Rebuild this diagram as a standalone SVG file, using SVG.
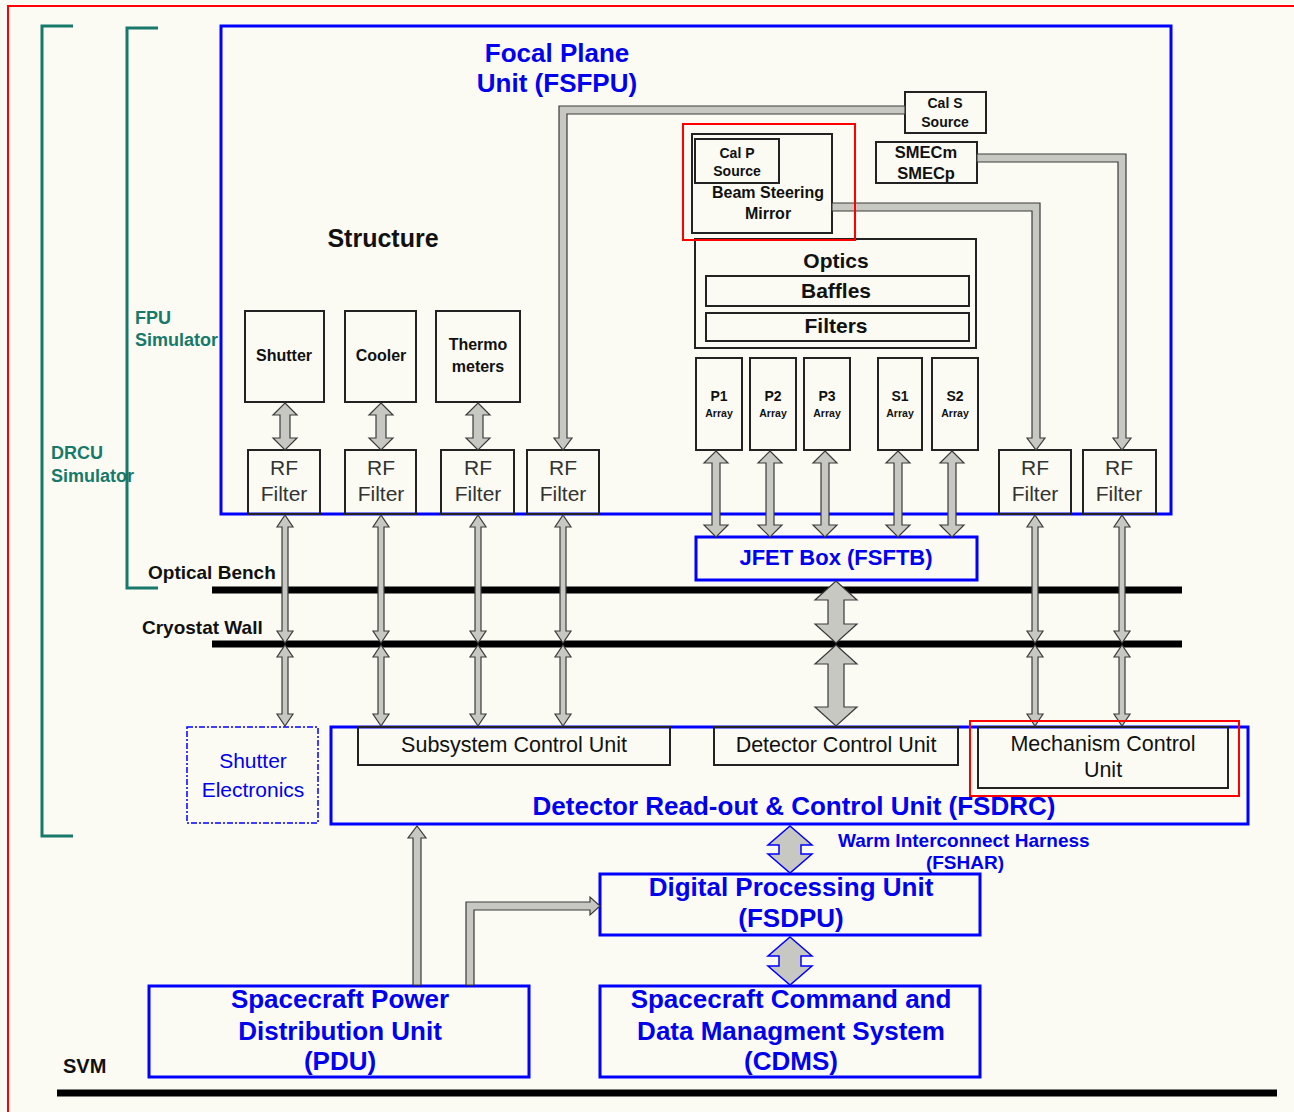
<svg xmlns="http://www.w3.org/2000/svg" width="1294" height="1112" viewBox="0 0 1294 1112">
<style>
.box{fill:none;stroke:#222;stroke-width:2}
.bbox{fill:none;stroke:#0000ff;stroke-width:3}
.dbox{fill:none;stroke:#0000ff;stroke-width:1.5;stroke-dasharray:6 2 2 2}
.hl{fill:none;stroke:#ff0000;stroke-width:2}
.arr{fill:#c8c8c2;stroke:#3a3a3a;stroke-width:1.2;stroke-linejoin:miter}
.barr{fill:#c8c8c2;stroke:#0000ff;stroke-width:1.5}
.wall{stroke:#000;stroke-width:7}
.br{fill:none;stroke:#17796a;stroke-width:3}
text{font-family:"Liberation Sans",Arial,sans-serif}
.b{font-weight:bold}
.blue{fill:#0000ee}
.blk{fill:#111}
.gr{fill:#17796a}
.rf{fill:#333;font-size:21px}
.m{text-anchor:middle}
</style>
<rect x="0" y="0" width="1294" height="1112" fill="#fbfbf3"/>
<path d="M8 1112 V6 H1294" fill="none" stroke="#ff0000" stroke-width="2"/>

<g id="brackets">
<path class="br" d="M73 26 H42 V836 H73"/>
<path class="br" d="M158 28 H127 V588 H158"/>
<text class="b gr" x="135" y="324" font-size="18">FPU</text>
<text class="b gr" x="135" y="346" font-size="18">Simulator</text>
<text class="b gr" x="51" y="459" font-size="18">DRCU</text>
<text class="b gr" x="51" y="482" font-size="18">Simulator</text>
</g>

<g id="walls">
<line class="wall" x1="212" y1="590" x2="1182" y2="590"/>
<line class="wall" x1="212" y1="644" x2="1182" y2="644"/>
<line class="wall" x1="57" y1="1093" x2="1277" y2="1093"/>
<text class="b blk" x="148" y="579" font-size="19">Optical Bench</text>
<text class="b blk" x="142" y="634" font-size="19">Cryostat Wall</text>
<text class="b blk" x="63" y="1073" font-size="20">SVM</text>
</g>

<g id="fsfpu">
<rect class="bbox" x="221" y="26" width="950" height="488"/>
<text class="b blue m" x="557" y="62" font-size="26">Focal Plane</text>
<text class="b blue m" x="557" y="92" font-size="26">Unit (FSFPU)</text>
<text class="b blk m" x="383" y="247" font-size="25">Structure</text>
</g>

<g id="shutter"><rect class="box" x="245" y="311" width="79" height="91"/><text class="b blk m" x="284" y="361" font-size="16">Shutter</text></g>
<g id="cooler"><rect class="box" x="345" y="311" width="71" height="91"/><text class="b blk m" x="381" y="361" font-size="16">Cooler</text></g>
<g id="thermometers"><rect class="box" x="436" y="311" width="84" height="91"/><text class="b blk m" x="478" y="350" font-size="16">Thermo</text><text class="b blk m" x="478" y="372" font-size="16">meters</text></g>

<g id="rf1"><rect class="box" x="248" y="450" width="72" height="64"/><text class="rf m" x="284" y="475">RF</text><text class="rf m" x="284" y="501">Filter</text></g>
<g id="rf2"><rect class="box" x="345" y="450" width="71" height="64"/><text class="rf m" x="381" y="475">RF</text><text class="rf m" x="381" y="501">Filter</text></g>
<g id="rf3"><rect class="box" x="441" y="450" width="73" height="64"/><text class="rf m" x="478" y="475">RF</text><text class="rf m" x="478" y="501">Filter</text></g>
<g id="rf4"><rect class="box" x="527" y="450" width="72" height="64"/><text class="rf m" x="563" y="475">RF</text><text class="rf m" x="563" y="501">Filter</text></g>
<g id="rf5"><rect class="box" x="999" y="450" width="72" height="64"/><text class="rf m" x="1035" y="475">RF</text><text class="rf m" x="1035" y="501">Filter</text></g>
<g id="rf6"><rect class="box" x="1083" y="450" width="73" height="64"/><text class="rf m" x="1119" y="475">RF</text><text class="rf m" x="1119" y="501">Filter</text></g>

<g id="cals"><rect class="box" x="905" y="92" width="81" height="41"/><text class="b blk m" x="945" y="108" font-size="14">Cal S</text><text class="b blk m" x="945" y="127" font-size="14">Source</text></g>
<g id="bsm"><rect class="box" x="692" y="134" width="140" height="99"/><text class="b blk m" x="768" y="198" font-size="16">Beam Steering</text><text class="b blk m" x="768" y="219" font-size="16">Mirror</text></g>
<g id="calp"><rect class="box" x="695" y="139" width="84" height="44"/><text class="b blk m" x="737" y="158" font-size="14">Cal P</text><text class="b blk m" x="737" y="176" font-size="14">Source</text></g>
<g id="smec"><rect class="box" x="876" y="142" width="101" height="41"/><text class="b blk m" x="926" y="158" font-size="16.5">SMECm</text><text class="b blk m" x="926" y="179" font-size="16.5">SMECp</text></g>

<g id="optics"><rect class="box" x="695" y="239" width="281" height="109"/><text class="b blk m" x="836" y="268" font-size="21">Optics</text></g>
<g id="baffles"><rect class="box" x="706" y="276" width="263" height="30"/><text class="b blk m" x="836" y="298" font-size="21">Baffles</text></g>
<g id="filters"><rect class="box" x="706" y="313" width="263" height="28"/><text class="b blk m" x="836" y="333" font-size="21">Filters</text></g>

<g id="p1"><rect class="box" x="696" y="358" width="46" height="92"/><text class="b blk m" x="719" y="401" font-size="14">P1</text><text class="b blk m" x="719" y="417" font-size="10.5">Array</text></g>
<g id="p2"><rect class="box" x="750" y="358" width="46" height="92"/><text class="b blk m" x="773" y="401" font-size="14">P2</text><text class="b blk m" x="773" y="417" font-size="10.5">Array</text></g>
<g id="p3"><rect class="box" x="804" y="358" width="46" height="92"/><text class="b blk m" x="827" y="401" font-size="14">P3</text><text class="b blk m" x="827" y="417" font-size="10.5">Array</text></g>
<g id="s1"><rect class="box" x="878" y="358" width="44" height="92"/><text class="b blk m" x="900" y="401" font-size="14">S1</text><text class="b blk m" x="900" y="417" font-size="10.5">Array</text></g>
<g id="s2"><rect class="box" x="932" y="358" width="46" height="92"/><text class="b blk m" x="955" y="401" font-size="14">S2</text><text class="b blk m" x="955" y="417" font-size="10.5">Array</text></g>

<g id="jfet"><rect class="bbox" x="696" y="537" width="281" height="43"/><text class="b blue m" x="836" y="565" font-size="22">JFET Box (FSFTB)</text></g>

<g id="shutter-electronics"><rect class="dbox" x="187" y="727" width="131" height="96"/><text class="blue m" x="253" y="768" font-size="21">Shutter</text><text class="blue m" x="253" y="797" font-size="21">Electronics</text></g>

<g id="fsdrc"><rect class="bbox" x="331" y="727" width="917" height="97"/><text class="b blue m" x="794" y="815" font-size="26">Detector Read-out &amp; Control Unit (FSDRC)</text></g>
<g id="scu"><rect class="box" x="358" y="727" width="312" height="38"/><text class="blk m" x="514" y="752" font-size="21.5">Subsystem Control Unit</text></g>
<g id="dcu"><rect class="box" x="714" y="727" width="244" height="38"/><text class="blk m" x="836" y="752" font-size="21.5">Detector Control Unit</text></g>
<g id="mcu"><rect class="box" x="978" y="727" width="250" height="61"/><text class="blk m" x="1103" y="751" font-size="21.5">Mechanism Control</text><text class="blk m" x="1103" y="777" font-size="21.5">Unit</text></g>

<g id="harness-label"><text class="b blue" x="838" y="847" font-size="19">Warm Interconnect Harness</text><text class="b blue m" x="965" y="869" font-size="19">(FSHAR)</text></g>

<g id="fsdpu"><rect class="bbox" x="600" y="874" width="380" height="61"/><text class="b blue m" x="791" y="896" font-size="26">Digital Processing Unit</text><text class="b blue m" x="791" y="927" font-size="26">(FSDPU)</text></g>
<g id="cdms"><rect class="bbox" x="600" y="986" width="380" height="91"/><text class="b blue m" x="791" y="1008" font-size="26">Spacecraft Command and</text><text class="b blue m" x="791" y="1040" font-size="26">Data Managment System</text><text class="b blue m" x="791" y="1070" font-size="26">(CDMS)</text></g>
<g id="pdu"><rect class="bbox" x="149" y="986" width="380" height="91"/><text class="b blue m" x="340" y="1008" font-size="26">Spacecraft Power</text><text class="b blue m" x="340" y="1040" font-size="26">Distribution Unit</text><text class="b blue m" x="340" y="1070" font-size="26">(PDU)</text></g>

<g id="connectors">
<path class="arr" d="M905 106 H559 V438 H554 L563 450 L572 438 H567 V114 H905 Z"/>
<path class="arr" d="M977 154 H1126 V438 H1131 L1122 450 L1113 438 H1118 V162 H977 Z"/>
<path class="arr" d="M832 203 H1040 V438 H1045 L1036 450 L1027 438 H1032 V211 H832 Z"/>
<path class="arr" d="M285 403 L297 415 H290 V438 H297 L285 450 L273 438 H280 V415 H273 Z"/>
<path class="arr" d="M381 403 L393 415 H386 V438 H393 L381 450 L369 438 H376 V415 H369 Z"/>
<path class="arr" d="M478 403 L490 415 H483 V438 H490 L478 450 L466 438 H473 V415 H466 Z"/>
<path class="arr" d="M716 451 L728 463 H720 V525 H728 L716 537 L704 525 H712 V463 H704 Z"/>
<path class="arr" d="M770 451 L782 463 H774 V525 H782 L770 537 L758 525 H766 V463 H758 Z"/>
<path class="arr" d="M825 451 L837 463 H829 V525 H837 L825 537 L813 525 H821 V463 H813 Z"/>
<path class="arr" d="M898 451 L910 463 H902 V525 H910 L898 537 L886 525 H894 V463 H886 Z"/>
<path class="arr" d="M952 451 L964 463 H956 V525 H964 L952 537 L940 525 H948 V463 H940 Z"/>
<path class="arr" d="M285 515 L293 527 H288 V631 H293 L285 643 L277 631 H282 V527 H277 Z"/>
<path class="arr" d="M285 645 L293 657 H288 V714 H293 L285 726 L277 714 H282 V657 H277 Z"/>
<path class="arr" d="M381 515 L389 527 H384 V631 H389 L381 643 L373 631 H378 V527 H373 Z"/>
<path class="arr" d="M381 645 L389 657 H384 V714 H389 L381 726 L373 714 H378 V657 H373 Z"/>
<path class="arr" d="M478 515 L486 527 H481 V631 H486 L478 643 L470 631 H475 V527 H470 Z"/>
<path class="arr" d="M478 645 L486 657 H481 V714 H486 L478 726 L470 714 H475 V657 H470 Z"/>
<path class="arr" d="M563 515 L571 527 H566 V631 H571 L563 643 L555 631 H560 V527 H555 Z"/>
<path class="arr" d="M563 645 L571 657 H566 V714 H571 L563 726 L555 714 H560 V657 H555 Z"/>
<path class="arr" d="M1035 515 L1043 527 H1038 V631 H1043 L1035 643 L1027 631 H1032 V527 H1027 Z"/>
<path class="arr" d="M1035 645 L1043 657 H1038 V714 H1043 L1035 726 L1027 714 H1032 V657 H1027 Z"/>
<path class="arr" d="M1122 515 L1130 527 H1125 V631 H1130 L1122 643 L1114 631 H1119 V527 H1114 Z"/>
<path class="arr" d="M1122 645 L1130 657 H1125 V714 H1130 L1122 726 L1114 714 H1119 V657 H1114 Z"/>
<path class="arr" d="M836 581 L857 600 H844 V624 H857 L836 643 L815 624 H828 V600 H815 Z"/>
<path class="arr" d="M836 645 L857 664 H844 V707 H857 L836 726 L815 707 H828 V664 H815 Z"/>
<path class="barr" d="M790 826 L812 845 H801 V854 H812 L790 873 L768 854 H779 V845 H768 Z"/>
<path class="barr" d="M790 937 L812 956 H801 V966 H812 L790 985 L768 966 H779 V956 H768 Z"/>
<path class="arr" d="M413 985 V838 H408 L417 826 L426 838 H421 V985 Z"/>
<path class="arr" d="M466 985 V902 H590 V897 L600 906 L590 915 V910 H474 V985 Z"/>
</g>

<g id="highlights">
<rect class="hl" x="683" y="124" width="172" height="116"/>
<rect class="hl" x="970" y="721" width="269" height="75"/>
</g>
</svg>
